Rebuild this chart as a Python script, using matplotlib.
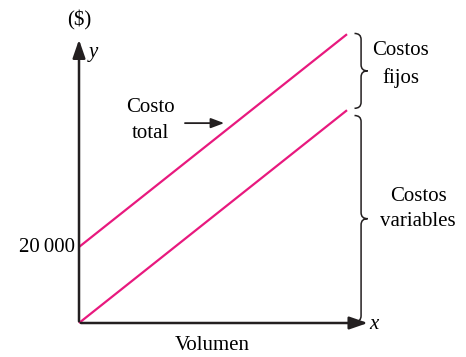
import matplotlib.pyplot as plt
from matplotlib.path import Path
from matplotlib.patches import PathPatch

# datos
volumen = [0, 100]
costo_fijo = 20000
costo_variable = [0, 56000]
costo_total = [costo_fijo + v for v in costo_variable]
magenta = '#e8197e'
negro = '#231f20'

plt.rcParams['font.family'] = ['Liberation Serif', 'DejaVu Serif']

fig = plt.figure(figsize=(4.66, 3.57), dpi=100)
ax = fig.add_axes([0, 0, 1, 1])
ax.set_xlim(-29.48, 144.4)
ax.set_ylim(-8947, 85000)
ax.axis('off')

# lineas de costo
ax.plot(volumen, costo_total, color=magenta, lw=1.6, solid_capstyle='butt')
ax.plot(volumen, costo_variable, color=magenta, lw=1.6, solid_capstyle='butt')

# ejes con flechas
ax.annotate('', xy=(0, 75300), xytext=(0, -300),
            arrowprops=dict(arrowstyle='-|>,head_length=1.1,head_width=0.38', color=negro, lw=1.8))
ax.annotate('', xy=(108.8, 0), xytext=(-0.3, 0),
            arrowprops=dict(arrowstyle='-|>,head_length=1.1,head_width=0.38', color=negro, lw=1.8))

fs = 15
ax.text(0, 79700, '($)', ha='center', va='center', fontsize=fs)
ax.text(5.3, 71300, 'y', ha='center', va='center', fontsize=fs, style='italic')
ax.text(109.9, -500, 'x', ha='center', va='center', fontsize=fs, style='italic')
ax.text(-1.4, costo_fijo, '20\u2009000', ha='right', va='center', fontsize=fs)
ax.text(49.6, -6000, 'Volumen', ha='center', va='center', fontsize=fs)
ax.text(26.5, 56800, 'Costo', ha='center', va='center', fontsize=fs)
ax.text(26.5, 50000, 'total', ha='center', va='center', fontsize=fs)
ax.annotate('', xy=(55.2, 52600), xytext=(38.5, 52600),
            arrowprops=dict(arrowstyle='-|>,head_length=0.8,head_width=0.3', color=negro, lw=1.3))
ax.text(120.1, 71800, 'Costos', ha='center', va='center', fontsize=fs)
ax.text(120.1, 64500, 'fijos', ha='center', va='center', fontsize=fs)
ax.text(126.5, 33400, 'Costos', ha='center', va='center', fontsize=fs)
ax.text(126.5, 26600, 'variables', ha='center', va='center', fontsize=fs)


def llave(x0, ytop, ybot, w=4.9, r=1600):
    ym = (ytop + ybot) / 2
    xm = x0 + w / 2
    verts = [(x0, ytop), (xm, ytop), (xm, ytop - r),
             (xm, ym + r), (xm, ym), (x0 + w, ym),
             (xm, ym), (xm, ym - r),
             (xm, ybot + r), (xm, ybot), (x0, ybot)]
    codes = [Path.MOVETO, Path.CURVE3, Path.CURVE3,
             Path.LINETO, Path.CURVE3, Path.CURVE3,
             Path.CURVE3, Path.CURVE3,
             Path.LINETO, Path.CURVE3, Path.CURVE3]
    ax.add_patch(PathPatch(Path(verts, codes), fill=False, color=negro, lw=1.1))


llave(102.8, costo_total[1] + 200, costo_variable[1] + 500)
llave(102.8, costo_variable[1] - 1400, 300)

fig.savefig('out.png', dpi=100)
